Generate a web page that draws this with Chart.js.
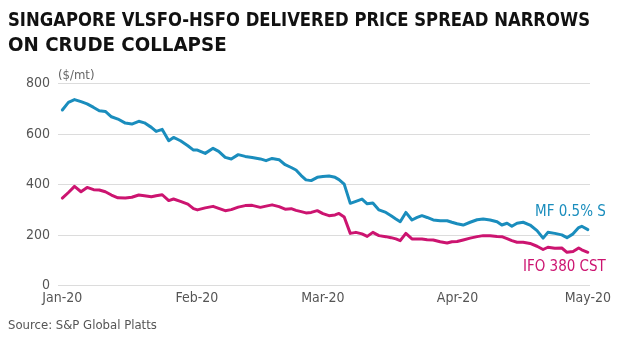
<!DOCTYPE html>
<html>
<head>
<meta charset="utf-8">
<script src="https://cdn.jsdelivr.net/npm/chart.js@4.4.1/dist/chart.umd.min.js"></script>
<style>
  html, body { margin: 0; padding: 0; background: #fff; }
  #wrap { width: 630px; height: 343px; }
</style>
</head>
<body>
<div id="wrap"><canvas id="grafico"></canvas></div>
<script>
// days since 1 Jan 2020
const days = [
  0, 1.4, 2.8, 4.3, 5.7, 7.2, 8.5, 9.9, 11.3, 12.8,
  14.5, 16.0, 17.6, 18.9, 20.5, 21.6, 23.0, 24.5, 25.6, 27.2,
  28.9, 30.2, 31.1, 32.9, 34.7, 36.0, 37.5, 38.9, 40.5, 42.1,
  43.7, 45.6, 46.9, 48.3, 49.9, 51.3, 52.7, 53.8, 55.0, 56.1,
  57.3, 58.7, 60.0, 61.4, 62.8, 63.7, 64.9, 66.3, 67.6, 69.0,
  70.2, 71.5, 72.9, 74.5, 75.7, 76.8, 77.8, 79.1, 80.5, 81.7,
  82.8, 84.0, 85.4, 87.0, 88.6, 89.7, 90.9, 92.3, 93.9, 95.5,
  96.9, 98.5, 100.1, 101.2, 102.4, 103.5, 104.7, 106.1, 107.7, 109.3,
  110.7, 111.8, 113.4, 115.0, 116.2, 117.6, 118.9, 119.6, 121.0
];

const mf05 = [
  696, 726, 737, 729, 720, 706, 693, 690, 669, 660,
  644, 640, 651, 645, 627, 611, 619, 574, 587, 574,
  554, 537, 537, 524, 544, 532, 508, 502, 519, 512,
  508, 502, 495, 504, 499, 479, 468, 458, 436, 419,
  416, 429, 432, 434, 429, 420, 402, 326, 334, 343,
  324, 327, 300, 290, 277, 264, 253, 290, 260, 270,
  277, 270, 260, 257, 257, 251, 245, 240, 251, 261,
  264, 260, 253, 240, 247, 235, 247, 251, 240, 218,
  188, 211, 207, 201, 190, 205, 230, 235, 222
];

const ifo380 = [
  347, 369, 393, 372, 389, 380, 379, 372, 359, 348,
  347, 350, 359, 356, 352, 356, 360, 337, 343, 334,
  323, 305, 300, 308, 314, 306, 297, 301, 311, 317,
  318, 310, 315, 320, 313, 303, 305, 298, 293, 288,
  290, 297, 285, 277, 280, 286, 272, 207, 211, 205,
  195, 211, 198, 194, 190, 185, 178, 207, 185, 185,
  185, 182, 181, 174, 169, 174, 175, 181, 188, 194,
  198, 198, 195, 194, 186, 178, 172, 172, 167, 156,
  143, 152, 148, 149, 132, 135, 149, 142, 132
];

// month ticks (day offset -> label)
const monthDays = [0, 31, 60, 91, 121];
const monthLabels = ['Jan-20', 'Feb-20', 'Mar-20', 'Apr-20', 'May-20'];
const yTicks = [0, 200, 400, 600, 800];

const azul = '#1a8dbd';
const rosa = '#cc1470';
const fonte = "'Liberation Sans Narrow', 'DejaVu Sans Condensed', Roboto, sans-serif";

// unidade no topo do eixo y e rótulos das séries no fim das linhas
const rotulos = {
    id: 'rotulos',
    afterDatasetsDraw(chart) {
        const ctx = chart.ctx;
        const x = chart.scales.x, y = chart.scales.y;
        ctx.save();
        ctx.font = '13px ' + fonte;
        ctx.fillStyle = '#666';
        ctx.textAlign = 'left';
        ctx.textBaseline = 'middle';
        ctx.fillText('($/mt)', chart.chartArea.left, y.getPixelForValue(800) - 8);

        ctx.font = '15px ' + fonte;
        ctx.textAlign = 'right';
        const last = days.length - 1;
        const xr = x.getPixelForValue(days[last]) + 18;
        ctx.fillStyle = azul;
        ctx.fillText('MF 0.5% S', xr, y.getPixelForValue(mf05[last]) - 17);
        ctx.fillStyle = rosa;
        ctx.fillText('IFO 380 CST', xr, y.getPixelForValue(ifo380[last]) + 15);
        ctx.restore();
    }
};

new Chart(document.getElementById('grafico'), {
    type: 'line',
    data: {
        labels: days,
        datasets: [{
            label: 'MF 0.5% S',
            data: days.map((d, i) => ({ x: d, y: mf05[i] })),
            borderColor: azul,
            borderWidth: 3,
            pointRadius: 0,
            tension: 0,
            borderJoinStyle: 'round',
            borderCapStyle: 'round'
        }, {
            label: 'IFO 380 CST',
            data: days.map((d, i) => ({ x: d, y: ifo380[i] })),
            borderColor: rosa,
            borderWidth: 3,
            pointRadius: 0,
            tension: 0,
            borderJoinStyle: 'round',
            borderCapStyle: 'round'
        }]
    },
    options: {
        responsive: true,
        maintainAspectRatio: false,
        animation: false,
        layout: {
            padding: { left: 8, right: 40, top: 0, bottom: 10 }
        },
        plugins: {
            legend: { display: false },
            tooltip: { enabled: false },
            title: {
                display: true,
                align: 'start',
                text: ['SINGAPORE VLSFO-HSFO DELIVERED PRICE SPREAD NARROWS', 'ON CRUDE COLLAPSE'],
                color: '#111',
                font: { family: fonte, size: 20.3, weight: 'bold', lineHeight: 1.2 },
                padding: { top: 9, bottom: 26 }
            },
            subtitle: {
                display: true,
                position: 'bottom',
                align: 'start',
                text: 'Source: S&P Global Platts',
                color: '#555',
                font: { family: fonte, size: 13 },
                padding: { top: 7, bottom: 0 }
            }
        },
        scales: {
            x: {
                type: 'linear',
                min: -1,
                max: 121.5,
                afterBuildTicks: (scale) => {
                    scale.ticks = monthDays.map(v => ({ value: v }));
                },
                ticks: {
                    callback: (v) => monthLabels[monthDays.indexOf(v)],
                    color: '#555',
                    font: { family: fonte, size: 14 },
                    maxRotation: 0,
                    padding: 4
                },
                grid: { display: false, drawTicks: false },
                border: { display: false }
            },
            y: {
                min: 0,
                max: 800,
                afterBuildTicks: (scale) => {
                    scale.ticks = yTicks.map(v => ({ value: v }));
                },
                afterFit: (scale) => { scale.width = 50; },
                ticks: {
                    color: '#555',
                    font: { family: fonte, size: 14 },
                    padding: 8
                },
                grid: { color: '#dcdcdc', lineWidth: 1, drawTicks: false },
                border: { display: false }
            }
        }
    },
    plugins: [rotulos]
});
</script>
</body>
</html>
